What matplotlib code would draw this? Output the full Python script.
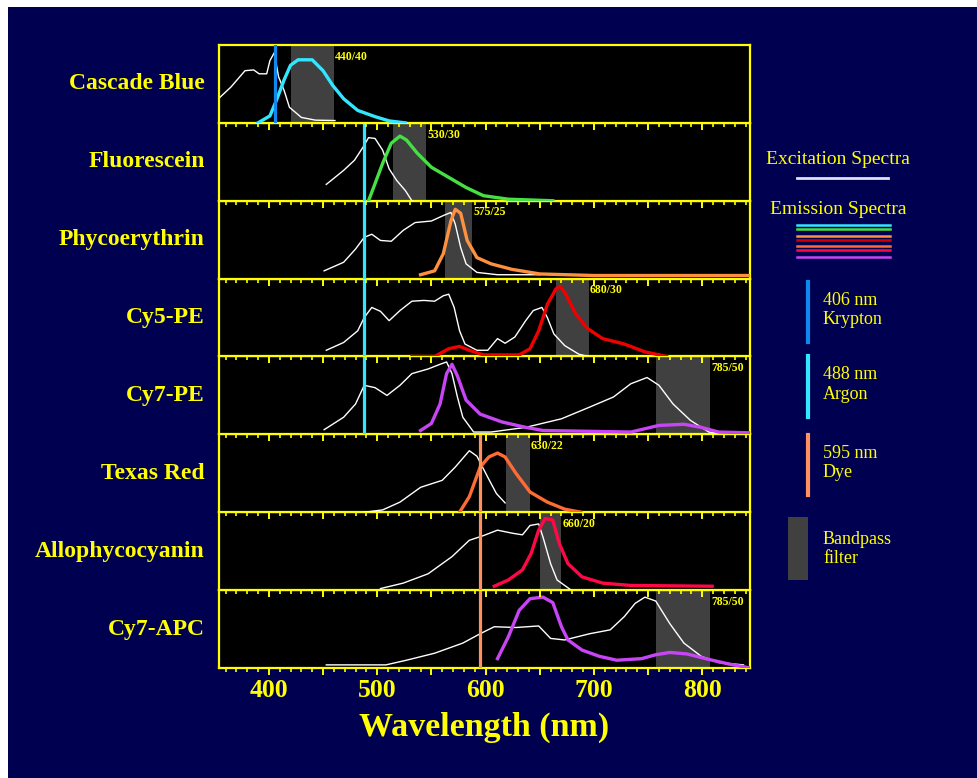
import matplotlib
matplotlib.use('Agg')
import matplotlib.pyplot as plt
from matplotlib.lines import Line2D
from matplotlib.patches import Rectangle
from matplotlib.ticker import MultipleLocator, FuncFormatter

# ---- data ----
dyes = ['Cascade Blue', 'Fluorescein', 'Phycoerythrin', 'Cy5-PE',
        'Cy7-PE', 'Texas Red', 'Allophycocyanin', 'Cy7-APC']

# excitation spectra (white)
cb_ex_nm = [355, 365, 378, 386, 391, 398, 401, 405, 409, 414, 419, 430, 443, 461]
cb_ex = [0.33, 0.46, 0.67, 0.68, 0.63, 0.63, 0.80, 0.90, 0.59, 0.42, 0.20, 0.07, 0.035, 0.03]
fl_ex_nm = [453, 469, 479, 487, 492, 498, 505, 511, 518, 526, 532]
fl_ex = [0.21, 0.39, 0.52, 0.69, 0.81, 0.80, 0.65, 0.41, 0.26, 0.13, 0.0]
pe_ex_nm = [451, 469, 480, 488, 495, 503, 513, 524, 535, 550, 561, 568, 572, 577, 582, 592, 611, 650]
pe_ex = [0.10, 0.21, 0.38, 0.53, 0.57, 0.49, 0.48, 0.62, 0.72, 0.74, 0.81, 0.85, 0.70, 0.40, 0.19, 0.08, 0.05, 0.05]
c5_ex_nm = [453, 469, 482, 488, 495, 503, 511, 521, 532, 543, 553, 561, 566, 571, 576, 581,
            592, 602, 611, 618, 627, 637, 644, 652, 657, 663, 673, 686, 695]
c5_ex = [0.08, 0.18, 0.33, 0.50, 0.63, 0.58, 0.46, 0.59, 0.71, 0.72, 0.71, 0.78, 0.80, 0.63, 0.33, 0.16,
         0.08, 0.08, 0.23, 0.17, 0.25, 0.46, 0.59, 0.63, 0.50, 0.29, 0.14, 0.03, 0.0]
c7pe_ex_nm = [451, 469, 480, 488, 498, 509, 521, 532, 547, 558, 564, 569, 574, 579, 589, 605,
              637, 670, 696, 718, 734, 749, 760, 773, 789, 806, 818]
c7pe_ex = [0.06, 0.22, 0.39, 0.63, 0.60, 0.50, 0.63, 0.78, 0.84, 0.90, 0.93, 0.78, 0.48, 0.22, 0.03, 0.03,
           0.09, 0.20, 0.35, 0.48, 0.65, 0.73, 0.63, 0.39, 0.18, 0.03, 0.01]
tr_ex_nm = [488, 505, 521, 540, 560, 572, 585, 592, 602, 610, 618]
tr_ex = [0.0, 0.03, 0.13, 0.32, 0.41, 0.58, 0.79, 0.72, 0.45, 0.24, 0.12]
apc_ex_nm = [503, 524, 547, 569, 585, 598, 611, 625, 634, 641, 649, 653, 660, 666, 679]
apc_ex = [0.02, 0.09, 0.21, 0.43, 0.64, 0.70, 0.77, 0.73, 0.71, 0.83, 0.85, 0.68, 0.34, 0.13, 0.0]
c7apc_ex_nm = [453, 508, 527, 553, 579, 595, 608, 628, 649, 660, 673, 696, 715, 728, 738, 747,
               757, 770, 783, 799, 815, 838]
c7apc_ex = [0.04, 0.04, 0.10, 0.19, 0.32, 0.44, 0.53, 0.52, 0.54, 0.38, 0.36, 0.44, 0.49, 0.66, 0.83, 0.91,
            0.86, 0.57, 0.32, 0.15, 0.07, 0.04]

# emission spectra (coloured)
cb_em_nm = [390, 401, 407, 414, 420, 427, 440, 450, 459, 469, 482, 498, 511, 526]
cb_em = [0.0, 0.09, 0.29, 0.55, 0.74, 0.81, 0.81, 0.67, 0.48, 0.31, 0.16, 0.08, 0.025, 0.0]
fl_em_nm = [492, 498, 505, 513, 521, 527, 537, 550, 566, 582, 598, 621, 662]
fl_em = [0.0, 0.22, 0.48, 0.74, 0.83, 0.78, 0.61, 0.43, 0.30, 0.17, 0.065, 0.02, 0.0]
pe_em_nm = [540, 553, 561, 568, 572, 577, 583, 592, 605, 624, 650, 700, 844]
pe_em = [0.05, 0.10, 0.32, 0.74, 0.89, 0.84, 0.49, 0.27, 0.19, 0.12, 0.06, 0.04, 0.04]
c5_em_nm = [532, 553, 566, 576, 585, 598, 631, 641, 649, 657, 665, 669, 674, 683, 694, 708, 728, 747, 767]
c5_em = [0.0, 0.0, 0.10, 0.13, 0.08, 0.02, 0.02, 0.10, 0.33, 0.67, 0.87, 0.90, 0.80, 0.55, 0.36, 0.23, 0.16, 0.06, 0.0]
c7pe_em_nm = [540, 550, 558, 564, 569, 574, 582, 595, 615, 637, 653, 734, 760, 783, 799, 815, 844]
c7pe_em = [0.05, 0.14, 0.39, 0.78, 0.90, 0.75, 0.44, 0.26, 0.16, 0.09, 0.05, 0.03, 0.115, 0.13, 0.09, 0.03, 0.02]
tr_em_nm = [576, 585, 595, 603, 611, 618, 628, 641, 657, 673, 688]
tr_em = [0.0, 0.20, 0.58, 0.71, 0.76, 0.71, 0.50, 0.26, 0.13, 0.04, 0.0]
apc_em_nm = [608, 621, 634, 642, 649, 655, 662, 668, 676, 689, 708, 734, 809]
apc_em = [0.05, 0.13, 0.26, 0.47, 0.77, 0.92, 0.90, 0.60, 0.34, 0.17, 0.09, 0.06, 0.05]
c7apc_em_nm = [611, 621, 631, 641, 653, 662, 670, 676, 689, 705, 721, 744, 757, 770, 786, 806, 825, 844]
c7apc_em = [0.12, 0.40, 0.74, 0.89, 0.91, 0.84, 0.53, 0.36, 0.23, 0.15, 0.10, 0.12, 0.17, 0.20, 0.18, 0.11, 0.05, 0.0]

ex_nm = [cb_ex_nm, fl_ex_nm, pe_ex_nm, c5_ex_nm, c7pe_ex_nm, tr_ex_nm, apc_ex_nm, c7apc_ex_nm]
ex_val = [cb_ex, fl_ex, pe_ex, c5_ex, c7pe_ex, tr_ex, apc_ex, c7apc_ex]
em_nm = [cb_em_nm, fl_em_nm, pe_em_nm, c5_em_nm, c7pe_em_nm, tr_em_nm, apc_em_nm, c7apc_em_nm]
em_val = [cb_em, fl_em, pe_em, c5_em, c7pe_em, tr_em, apc_em, c7apc_em]
em_colors = ['#33E6FF', '#44E044', '#FF9040', '#F00000', '#C845F5', '#FF6A35', '#FF0845', '#C845F5']

# bandpass filters: centre / width
bp_center = [440, 530, 575, 680, 782, 630, 660, 782]
bp_width = [40, 30, 25, 30, 50, 22, 20, 50]
bp_label = ['440/40', '530/30', '575/25', '680/30', '785/50', '630/22', '660/20', '785/50']

# lasers: wavelength, first and last panel they cross
laser_nm = [406, 488, 595]
laser_panels = [(0, 0), (1, 4), (5, 7)]
laser_colors = ['#1188F0', '#33E6FF', '#FF9060']

YEL = '#FFFF00'
NAVY = '#000050'
SERIF = 'Liberation Serif'

W, H = 978, 778
fig = plt.figure(figsize=(W / 100, H / 100), dpi=100, facecolor='white')
fig.add_artist(Rectangle((8 / W, 0), 1 - 8 / W, 1 - 7 / H, transform=fig.transFigure,
                         facecolor=NAVY, edgecolor='none', zorder=-10))

left, right = 219 / W, 750 / W
top, bottom = 1 - 45 / H, 1 - 668 / H
ph = (top - bottom) / 8

axes = []
for i in range(8):
    ax = fig.add_axes([left, top - (i + 1) * ph, right - left, ph], zorder=10 - i)
    ax.set_facecolor('black')
    ax.set_xlim(354, 844)
    ax.set_ylim(0, 1)
    ax.set_yticks([])
    for s in ax.spines.values():
        s.set_color(YEL)
        s.set_linewidth(1.6)
    ax.xaxis.set_major_locator(MultipleLocator(50))
    ax.xaxis.set_minor_locator(MultipleLocator(10))
    ax.tick_params(axis='x', which='major', direction='out', length=5, width=1.4, color=YEL)
    ax.tick_params(axis='x', which='minor', direction='out', length=3, width=1.2, color=YEL)
    ax.tick_params(axis='x', labelbottom=(i == 7), labelcolor=YEL, labelsize=18.5, pad=3)
    axes.append(ax)

    # bandpass filter
    lo = bp_center[i] - bp_width[i] / 2
    ax.axvspan(lo, lo + bp_width[i], color='#404040', zorder=1, lw=0)
    ax.text(lo + bp_width[i] + 1, 0.85, bp_label[i], color=YEL, fontsize=8.5,
            fontweight='bold', family=SERIF, ha='left', va='center', zorder=6)

    ax.plot(ex_nm[i], ex_val[i], color='white', lw=1.0, zorder=3)
    ax.plot(em_nm[i], em_val[i], color=em_colors[i], lw=2.4, zorder=4)

    ax.text(-0.027, 0.5, dyes[i], transform=ax.transAxes, ha='right', va='center',
            color=YEL, fontsize=17, fontweight='bold', family=SERIF)

last = axes[-1]
last.xaxis.set_major_formatter(FuncFormatter(lambda v, p: '%d' % v if v % 100 == 0 else ''))
for lab in last.get_xticklabels():
    lab.set_fontfamily(SERIF)
    lab.set_fontweight('bold')
last.set_xlabel('Wavelength (nm)', color=YEL, fontsize=24.5, fontweight='bold',
                family=SERIF, labelpad=7)

for nm, (a, b), c in zip(laser_nm, laser_panels, laser_colors):
    for i in range(a, b + 1):
        axes[i].axvline(nm, color=c, lw=2.3, zorder=5)

# ---- legend on the right ----
def fx(px):
    return px / W

def fy(py):
    return 1 - py / H

fig.text(fx(838), fy(160), 'Excitation Spectra', color=YEL, fontsize=14, family=SERIF,
         ha='center', va='center')
fig.add_artist(Line2D([fx(797), fx(888)], [fy(178), fy(178)], color='#E0E0F0', lw=2,
                      transform=fig.transFigure))
fig.text(fx(838), fy(209), 'Emission Spectra', color=YEL, fontsize=14, family=SERIF,
         ha='center', va='center')
leg_colors = ['#33E6FF', '#44E044', '#FF9040', '#D00000', '#FF6A35', '#FF0845', '#C845F5']
leg_y = [225, 229, 236, 240, 246, 250, 257]
for c, yy in zip(leg_colors, leg_y):
    fig.add_artist(Line2D([fx(797), fx(890)], [fy(yy), fy(yy)], color=c, lw=1.8,
                          transform=fig.transFigure))

laser_text = ['406 nm\nKrypton', '488 nm\nArgon', '595 nm\nDye']
laser_y = [(282, 342), (356, 417), (435, 495)]
for t, (y0, y1), c in zip(laser_text, laser_y, laser_colors):
    fig.add_artist(Line2D([fx(808), fx(808)], [fy(y0), fy(y1)], color=c, lw=3,
                          transform=fig.transFigure))
    fig.text(fx(823), fy((y0 + y1) / 2 - 2), t, color=YEL, fontsize=13, family=SERIF,
             ha='left', va='center', linespacing=1.2)

fig.add_artist(Rectangle((fx(788), fy(580)), (808 - 788) / W, (580 - 517) / H,
                         transform=fig.transFigure, facecolor='#404040', edgecolor='none'))
fig.text(fx(823), fy(549), 'Bandpass\nfilter', color=YEL, fontsize=13, family=SERIF,
         ha='left', va='center', linespacing=1.2)

fig.savefig('out.png', dpi=100, facecolor=fig.get_facecolor())
